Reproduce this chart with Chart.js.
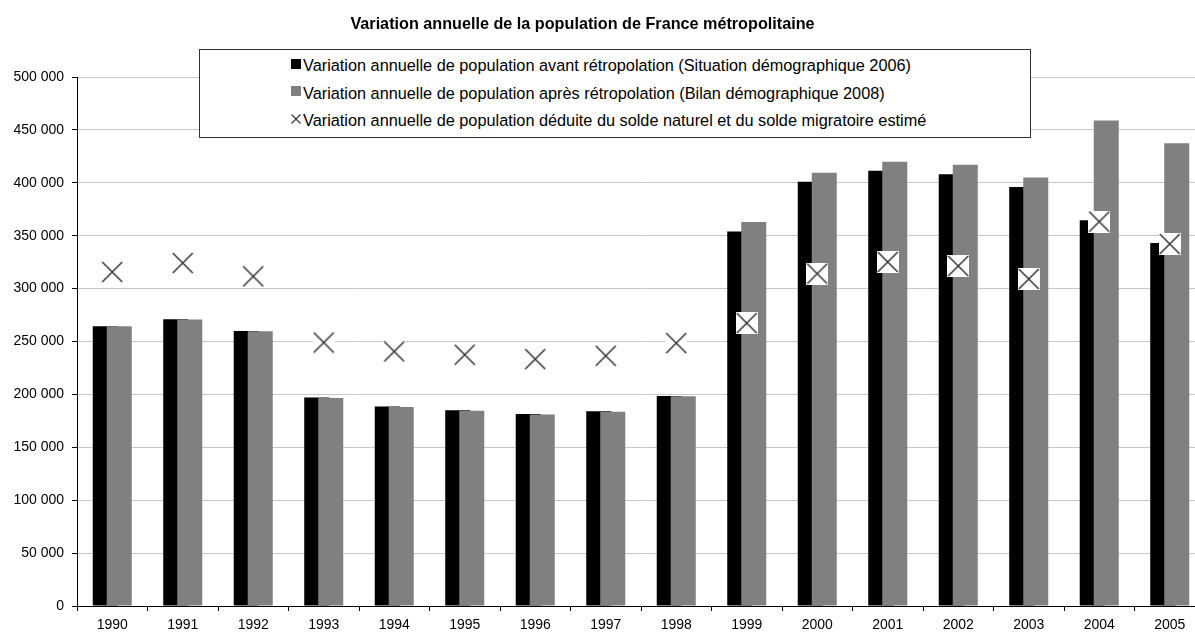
<!DOCTYPE html>
<html><head><meta charset="utf-8">
<script src="https://cdn.jsdelivr.net/npm/chart.js@4.4.1/dist/chart.umd.min.js"></script>
<style>
html,body{margin:0;padding:0;background:#fff;overflow:hidden;width:1195px;height:633px;}
#clip{position:relative;width:1195px;height:633px;overflow:hidden;}
#c{position:absolute;left:0;top:0;}
#title{position:absolute;left:0;width:1165px;top:14px;line-height:20px;text-align:center;font:bold 16.2px "Liberation Sans",Arial,sans-serif;color:#000;white-space:nowrap;}
#legend{position:absolute;left:199px;top:49px;width:832px;height:89px;box-sizing:border-box;border:1px solid #333;background:#fff;padding:2px 0 0 91px;font:16.3px "Liberation Sans",Arial,sans-serif;color:#000;}
.row{height:27.5px;display:flex;align-items:center;white-space:nowrap;}
.mk{width:10px;height:10px;flex:none;margin-right:2px;position:relative;top:-2px;}
</style>
</head><body>
<div id="clip">
<canvas id="c" width="1206" height="633" style="width:1206px;height:633px"></canvas>
<div id="title">Variation annuelle de la population de France métropolitaine</div>
<div id="legend"></div>
</div>
<script>
// ---- data ----
const years = ['1990','1991','1992','1993','1994','1995','1996','1997','1998','1999','2000','2001','2002','2003','2004','2005'];
const avantRetropolation = [264500,271000,260000,197000,188500,185000,181500,184000,198500,354000,401000,411500,408000,396000,364500,343000];
const apresRetropolation = [264300,270800,259800,196500,188000,184500,181000,183500,198300,363000,409500,420000,417000,405000,459000,437500];
const soldeEstime = [315700,324200,311600,249000,240600,237500,233400,236500,248500,267400,314100,325200,321400,309100,363300,342200];
const labelAvant = 'Variation annuelle de population avant rétropolation (Situation démographique 2006)';
const labelApres = 'Variation annuelle de population après rétropolation (Bilan démographique 2008)';
const labelSolde = 'Variation annuelle de population déduite du solde naturel et du solde migratoire estimé';
const yMin = 0, yMax = 500000, yStep = 50000;

const FONT = '"Liberation Sans", Arial, sans-serif';

function crossMarker(){
  const c = document.createElement('canvas'); c.width = 22; c.height = 22;
  const g = c.getContext('2d');
  g.fillStyle = '#fff'; g.fillRect(0,0,22,22);
  g.strokeStyle = '#333'; g.lineWidth = 1.5;
  g.beginPath(); g.moveTo(1,1); g.lineTo(21,21); g.moveTo(21,1); g.lineTo(1,21); g.stroke();
  return c;
}
function fmt(v){ return String(v).replace(/\B(?=(\d{3})+(?!\d))/g, ' '); }

const chart = new Chart(document.getElementById('c'), {
  type: 'bar',
  data: {
    labels: years,
    datasets: [
      { label: '', data: years.map(() => null), stack: 'b', order: -3, backgroundColor: 'rgba(0,0,0,0)' },
      { type: 'line', label: labelSolde, data: soldeEstime, showLine: false, pointStyle: crossMarker(), pointRadius: 11, order: -2, clip: false },
      { label: labelApres, data: apresRetropolation, backgroundColor: '#808080', stack: 'g', order: -1, borderWidth: 0 },
      { label: labelAvant, data: avantRetropolation, backgroundColor: '#000000', stack: 'b', order: 0, borderWidth: 0 }
    ]
  },
  options: {
    responsive: false, maintainAspectRatio: false, animation: false, devicePixelRatio: 1,
    events: [],
    categoryPercentage: 28/70.47,
    barPercentage: 25/14,
    layout: { autoPadding: false, padding: { top: 77, left: 0, right: 1, bottom: 0 } },
    plugins: { legend: { display: false }, title: { display: false }, tooltip: { enabled: false } },
    scales: {
      x: {
        type: 'category', offset: true,
        grid: { offset: true, drawOnChartArea: false, drawTicks: true, tickLength: 5, tickColor: '#000' },
        border: { color: '#000', width: 1 },
        ticks: { color: '#000', font: { family: FONT, size: 14 }, padding: 6, maxRotation: 0, autoSkip: false },
        afterFit: s => { s.height = 27; s.paddingLeft = 0; s.paddingRight = 0; }
      },
      y: {
        min: yMin, max: yMax, stacked: false,
        grid: { color: '#c8c8c8', tickColor: '#000', tickLength: 5 },
        border: { color: '#000', width: 1 },
        ticks: { stepSize: yStep, color: '#000', font: { family: FONT, size: 14 }, padding: 8, callback: v => fmt(v) },
        afterFit: s => { s.width = 77; }
      }
    }
  }
});

// HTML legend built from the datasets
const order = [labelAvant, labelApres, labelSolde];
const lg = document.getElementById('legend');
order.forEach(lbl => {
  const ds = chart.data.datasets.find(d => d.label === lbl);
  const row = document.createElement('div'); row.className = 'row';
  let mk;
  if (ds.type === 'line') {
    mk = document.createElementNS('http://www.w3.org/2000/svg', 'svg');
    mk.setAttribute('width', '10'); mk.setAttribute('height', '10');
    mk.setAttribute('class', 'mk');
    mk.innerHTML = '<path d="M0.5 0.5L9.5 9.5M9.5 0.5L0.5 9.5" stroke="#333" stroke-width="1.2"/>';
  } else {
    mk = document.createElement('span'); mk.className = 'mk'; mk.style.background = ds.backgroundColor;
  }
  const t = document.createElement('span'); t.textContent = lbl;
  row.appendChild(mk); row.appendChild(t); lg.appendChild(row);
});
</script>
</body></html>
